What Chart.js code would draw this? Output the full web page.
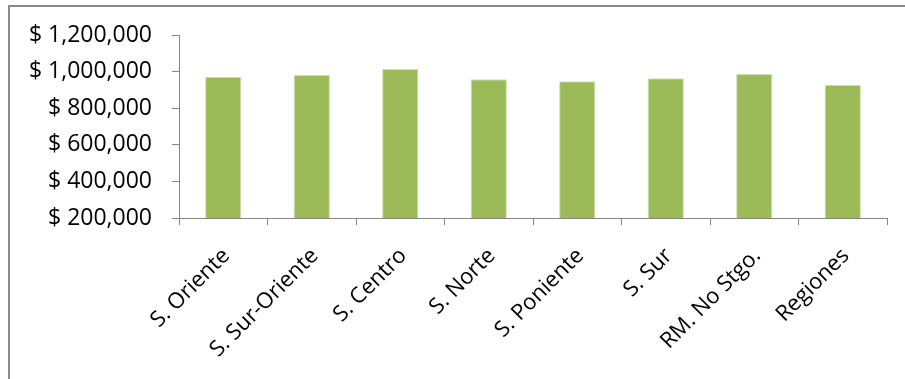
<!DOCTYPE html>
<html lang="es">
<head>
  <meta charset="UTF-8">
  <title>Ingreso promedio por sector</title>
  <script src="https://cdn.jsdelivr.net/npm/chart.js"></script>
  <style>
    html, body { margin: 0; padding: 0; background: #fff; }
    #wrap { position: relative; width: 905px; height: 379px; overflow: hidden; }
    /* chart frame, only the top and left edges fall inside the page */
    #frame { position: absolute; left: 8px; top: 5px; width: 1000px; height: 1000px;
             border-left: 2px solid #8c8c8c; border-top: 2px solid #8c8c8c; box-sizing: border-box; }
    #chart { position: absolute; left: 0; top: 0; }
  </style>
</head>
<body>
  <div id="wrap">
    <div id="frame"></div>
    <canvas id="chart" width="905" height="379"></canvas>
  </div>

  <script>
    const sectores = ['S. Oriente', 'S. Sur-Oriente', 'S. Centro', 'S. Norte', 'S. Poniente', 'S. Sur', 'RM. No Stgo.', 'Regiones'];
    const ingresos = [972000, 981000, 1014000, 958000, 947000, 963000, 987000, 928000];
    const yTicks = [200000, 400000, 600000, 800000, 1000000, 1200000];

    const axisGray = '#868686';
    const fontFamily = '"Open Sans", "Noto Sans", sans-serif';

    new Chart(document.getElementById('chart'), {
      type: 'bar',
      data: {
        labels: sectores,
        datasets: [{
          data: ingresos,
          backgroundColor: '#9bbb59',
          borderColor: '#d3e1b6',
          borderWidth: { top: 1, left: 1, right: 1, bottom: 0 },
          barPercentage: 0.41,
          categoryPercentage: 1
        }]
      },
      options: {
        responsive: false,
        animation: false,
        layout: { padding: { top: 35, right: 18, left: 0, bottom: 0 } },
        plugins: { legend: { display: false }, tooltip: { enabled: false } },
        scales: {
          x: {
            offset: true,
            grid: { offset: true, drawOnChartArea: false, drawTicks: true, tickLength: 7, color: axisGray, lineWidth: 1 },
            border: { color: axisGray, width: 1 },
            ticks: {
              color: '#000',
              minRotation: 45, maxRotation: 45,
              autoSkip: false,
              padding: 18,
              labelOffset: 3,
              font: { family: fontFamily, size: 22 }
            },
            afterFit: (scale) => { scale.height = 379 - 218; }
          },
          y: {
            min: yTicks[0],
            max: yTicks[yTicks.length - 1],
            afterBuildTicks: (scale) => { scale.ticks = yTicks.map(v => ({ value: v })); },
            grid: { drawOnChartArea: false, drawTicks: true, tickLength: 7, color: axisGray, lineWidth: 1 },
            border: { color: axisGray, width: 1 },
            ticks: {
              color: '#000',
              padding: 20,
              font: { family: fontFamily, size: 23 },
              callback: (v) => '$ ' + Number(v).toLocaleString('en-US')
            },
            afterFit: (scale) => { scale.width = 179; }
          }
        }
      }
    });
  </script>
</body>
</html>
